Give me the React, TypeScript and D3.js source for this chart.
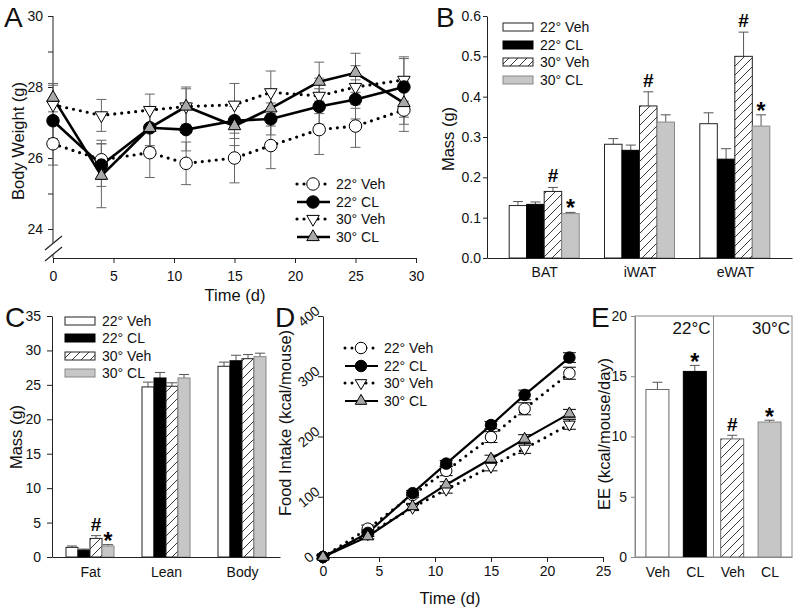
import React, { useEffect, useRef } from 'react';
import * as d3 from 'd3';

const FONT = "'Liberation Sans', Arial, Helvetica, sans-serif";
const GRAY = '#c6c6c6';
const TRI_GRAY = '#a9a9a9';
const ERR = '#555';

const seriesNames = ['22° Veh', '22° CL', '30° Veh', '30° CL'];

// A: body weight over time
const timeA = [0, 4, 8, 11, 15, 18, 22, 25, 29];
const bw22Veh = [26.4, 25.95, 26.15, 25.85, 26.0, 26.35, 26.8, 26.9, 27.35];
const bw22VehErr = [0.6, 0.55, 0.7, 0.6, 0.7, 0.65, 0.7, 0.6, 0.6];
const bw22CL = [27.05, 25.8, 26.85, 26.8, 27.05, 27.1, 27.45, 27.65, 28.0];
const bw22CLErr = [0.5, 0.6, 0.5, 0.6, 0.5, 0.45, 0.5, 0.55, 0.85];
const bw30Veh = [27.5, 27.2, 27.35, 27.45, 27.5, 27.85, 27.75, 28.0, 28.2];
const bw30VehErr = [0.55, 0.45, 0.45, 0.5, 0.6, 0.6, 0.5, 0.6, 0.6];
const bw30CL = [27.7, 25.5, 26.85, 27.45, 26.9, 27.4, 28.15, 28.4, 27.55];
const bw30CLErr = [0.4, 0.9, 0.55, 0.55, 0.55, 0.5, 0.55, 0.55, 0.6];
const ticksA = [0, 5, 10, 15, 20, 25, 30];

// B: tissue mass
const groupsB = ['BAT', 'iWAT', 'eWAT'];
const tis22Veh = [0.13, 0.282, 0.333];
const tis22VehErr = [0.01, 0.014, 0.027];
const tis22CL = [0.133, 0.267, 0.245];
const tis22CLErr = [0.006, 0.013, 0.026];
const tis30Veh = [0.165, 0.377, 0.5];
const tis30VehErr = [0.01, 0.035, 0.06];
const tis30CL = [0.11, 0.337, 0.327];
const tis30CLErr = [0.003, 0.018, 0.028];
const marksB = [['', '', '#', '*'], ['', '', '#', ''], ['', '', '#', '*']];

// C: body composition
const groupsC = ['Fat', 'Lean', 'Body'];
const comp22Veh = [1.4, 24.7, 27.7];
const comp22VehErr = [0.2, 0.7, 0.6];
const comp22CL = [1.0, 26.0, 28.5];
const comp22CLErr = [0.15, 0.8, 0.8];
const comp30Veh = [2.7, 24.8, 28.8];
const comp30VehErr = [0.4, 0.5, 0.6];
const comp30CL = [1.6, 26.0, 29.1];
const comp30CLErr = [0.2, 0.5, 0.5];
const marksC = [['', '', '#', '*'], ['', '', '', ''], ['', '', '', '']];

// D: cumulative food intake
const timeD = [0, 4, 8, 11, 15, 18, 22];
const fi22Veh = [0, 47, 103, 143, 199, 246, 305];
const fi22VehErr = [3, 6, 4, 8, 9, 10, 10];
const fi22CL = [0, 40, 106, 155, 219, 269, 331];
const fi22CLErr = [3, 5, 4, 5, 6, 8, 8];
const fi30Veh = [0, 38, 82, 112, 150, 180, 220];
const fi30VehErr = [3, 4, 5, 6, 7, 8, 8];
const fi30CL = [0, 34, 84, 120, 163, 196, 238];
const fi30CLErr = [3, 4, 5, 5, 6, 7, 7];

// E: energy expenditure
const eeLabels = ['Veh', 'CL', 'Veh', 'CL'];
const eeTemps = ['22°C', '30°C'];
const eeVals = [13.9, 15.4, 9.8, 11.2];
const eeErr = [0.6, 0.5, 0.3, 0.15];
const eeMarks = ['', '*', '#', '*'];

const barFill = ['#fff', '#000', 'url(#hatch)', GRAY];
const barStroke = ['#222', '#000', '#222', '#888'];

type LineStyle = { kind: 'circle' | 'up' | 'down'; fill: string; dotted: boolean };
const lineStyles: LineStyle[] = [
  { kind: 'circle', fill: '#fff', dotted: true },
  { kind: 'circle', fill: '#000', dotted: false },
  { kind: 'down', fill: '#fff', dotted: true },
  { kind: 'up', fill: TRI_GRAY, dotted: false },
];

function Axis({ axis, x = 0, y = 0, size = 14, color = '#222', post }: any) {
  const ref = useRef<SVGGElement | null>(null);
  useEffect(() => {
    if (!ref.current) return;
    const g = d3.select(ref.current);
    g.selectAll('*').remove();
    g.call(axis);
    g.attr('font-family', FONT).attr('font-size', size);
    g.selectAll('path,line').attr('stroke', color);
    g.selectAll('text').attr('fill', '#111');
    if (post) post(g);
  });
  return <g ref={ref} transform={`translate(${x},${y})`} />;
}

function Marker({ kind, fill, x, y, size }: { kind: string; fill: string; x: number; y: number; size: number }) {
  if (kind === 'circle') {
    return <circle cx={x} cy={y} r={size / 2} fill={fill} stroke="#000" strokeWidth={1} />;
  }
  const area = (size * size * Math.sqrt(3)) / 4;
  const p = d3.symbol().type(d3.symbolTriangle).size(area)() as string;
  return (
    <path
      d={p}
      transform={`translate(${x},${y})${kind === 'down' ? ' rotate(180)' : ''}`}
      fill={fill}
      stroke="#000"
      strokeWidth={1}
    />
  );
}

function Title({ x, y, text, rotate = false, size = 16.5 }: any) {
  return (
    <text
      transform={`translate(${x},${y})${rotate ? ' rotate(-90)' : ''}`}
      textAnchor="middle"
      dy={rotate ? '0.35em' : 0}
      fontFamily={FONT}
      fontSize={size}
      fill="#111"
    >
      {text}
    </text>
  );
}

function Letter({ x, y, t }: any) {
  return (
    <text x={x} y={y} fontFamily={FONT} fontSize={28} fill="#111">
      {t}
    </text>
  );
}

function SigMark({ x, y, m }: { x: number; y: number; m: string }) {
  if (!m) return null;
  if (m === '*') {
    return (
      <text x={x} y={y + 5} textAnchor="middle" fontFamily={FONT} fontWeight="bold" fontSize={23} fill="#000">
        *
      </text>
    );
  }
  return (
    <text x={x} y={y - 4} textAnchor="middle" fontFamily={FONT} fontWeight="bold" fontSize={19} fill="#000">
      #
    </text>
  );
}

function LinePanel({ times, series, errs, x, y, lineW, dotW, markerSize, capW, errColor }: any) {
  const line = d3
    .line<number>()
    .x((_, i) => x(times[i]))
    .y((d) => y(d));
  const order = [0, 2, 1, 3];
  return (
    <g>
      {order.map((s) => (
        <g key={'e' + s}>
          {series[s].map((v: number, i: number) => {
            const cx = x(times[i]);
            const e = errs[s][i];
            return (
              <g key={i} stroke={errColor} strokeWidth={1}>
                <line x1={cx} x2={cx} y1={y(v - e)} y2={y(v + e)} />
                <line x1={cx - capW / 2} x2={cx + capW / 2} y1={y(v + e)} y2={y(v + e)} />
                <line x1={cx - capW / 2} x2={cx + capW / 2} y1={y(v - e)} y2={y(v - e)} />
              </g>
            );
          })}
        </g>
      ))}
      {order.map((s) => (
        <path
          key={'l' + s}
          d={line(series[s]) as string}
          fill="none"
          stroke="#000"
          strokeWidth={lineStyles[s].dotted ? dotW : lineW}
          strokeDasharray={lineStyles[s].dotted ? '0 7' : undefined}
          strokeLinecap={lineStyles[s].dotted ? 'round' : 'butt'}
        />
      ))}
      {order.map((s) => (
        <g key={'m' + s}>
          {series[s].map((v: number, i: number) => (
            <Marker key={i} kind={lineStyles[s].kind} fill={lineStyles[s].fill} x={x(times[i])} y={y(v)} size={markerSize} />
          ))}
        </g>
      ))}
    </g>
  );
}

function LineLegend({ x, rows, lineW, dotW, markerSize, size = 14 }: any) {
  return (
    <g>
      {seriesNames.map((n, i) => (
        <g key={n}>
          <line
            x1={x}
            x2={x + 33}
            y1={rows[i]}
            y2={rows[i]}
            stroke="#000"
            strokeWidth={lineStyles[i].dotted ? dotW : lineW}
            strokeDasharray={lineStyles[i].dotted ? '0 7' : undefined}
            strokeLinecap={lineStyles[i].dotted ? 'round' : 'butt'}
          />
          <Marker kind={lineStyles[i].kind} fill={lineStyles[i].fill} x={x + 16} y={rows[i]} size={markerSize} />
          <text x={x + 39} y={rows[i] + 5} fontFamily={FONT} fontSize={size} fill="#111">
            {n}
          </text>
        </g>
      ))}
    </g>
  );
}

function BarLegend({ x, rows }: any) {
  return (
    <g>
      {seriesNames.map((n, i) => (
        <g key={n}>
          <rect x={x} y={rows[i] - 4} width={30} height={8} fill={barFill[i]} stroke={barStroke[i]} strokeWidth={1} />
          <text x={x + 37} y={rows[i] + 5} fontFamily={FONT} fontSize={14} fill="#111">
            {n}
          </text>
        </g>
      ))}
    </g>
  );
}

function GroupedBars({ groups, series, errs, marks, x, sub, y, y0 }: any) {
  return (
    <g>
      {groups.map((g: string, gi: number) => (
        <g key={g}>
          {series.map((vals: number[], s: number) => {
            const bx = x(g) + sub(seriesNames[s]);
            const w = sub.bandwidth();
            const v = vals[gi];
            const top = y(v + errs[s][gi]);
            return (
              <g key={s}>
                <line x1={bx + w / 2} x2={bx + w / 2} y1={y(v)} y2={top} stroke={ERR} strokeWidth={1} />
                <line x1={bx + w / 2 - 5} x2={bx + w / 2 + 5} y1={top} y2={top} stroke={ERR} strokeWidth={1} />
                <rect x={bx} y={y(v)} width={w} height={y0 - y(v)} fill={barFill[s]} stroke={barStroke[s]} strokeWidth={1} />
                <SigMark x={bx + w / 2} y={top - 1} m={marks[gi][s]} />
              </g>
            );
          })}
        </g>
      ))}
    </g>
  );
}

function PanelA() {
  const x = d3.scaleLinear().domain([0, 30]).range([53, 416]);
  const y = d3.scaleLinear().domain([24, 30]).range([229, 16]);
  const series = [bw22Veh, bw22CL, bw30Veh, bw30CL];
  const errs = [bw22VehErr, bw22CLErr, bw30VehErr, bw30CLErr];
  return (
    <g>
      <Axis
        axis={d3.axisBottom(x).tickValues(ticksA).tickSize(5).tickSizeOuter(0).tickPadding(8)}
        y={258}
      />
      <Axis
        axis={d3
          .axisLeft(y)
          .tickValues([24, 25, 26, 27, 28, 29, 30])
          .tickFormat((d: any) => (d % 2 === 0 ? String(d) : ''))
          .tickSize(5)
          .tickPadding(5)}
        x={53}
        post={(g: any) => g.select('.domain').remove()}
      />
      <line x1={53} x2={53} y1={y(30)} y2={243} stroke="#222" />
      <line x1={53} x2={53} y1={254} y2={258} stroke="#222" />
      <line x1={45} y1={250} x2={62} y2={236} stroke="#222" strokeWidth={1.2} />
      <line x1={45} y1={261} x2={62} y2={247} stroke="#222" strokeWidth={1.2} />
      <LinePanel times={timeA} series={series} errs={errs} x={x} y={y} lineW={2.6} dotW={3.2} markerSize={12.5} capW={10} errColor="#666" />
      <LineLegend x={297} rows={[184, 202, 219, 237]} lineW={2.6} dotW={3.2} markerSize={12.5} />
      <Title x={18} y={141} text="Body Weight (g)" rotate />
      <Title x={235} y={301} text="Time (d)" />
      <Letter x={4} y={27} t="A" />
    </g>
  );
}

function PanelB() {
  const x = d3.scalePoint().domain(groupsB).range([487, 792]).padding(0.6);
  const sub = d3.scaleBand().domain(seriesNames).range([-35, 35]);
  const y = d3.scaleLinear().domain([0, 0.6]).range([258, 16]);
  const series = [tis22Veh, tis22CL, tis30Veh, tis30CL];
  const errs = [tis22VehErr, tis22CLErr, tis30VehErr, tis30CLErr];
  return (
    <g>
      <GroupedBars groups={groupsB} series={series} errs={errs} marks={marksB} x={x} sub={sub} y={y} y0={258} />
      <Axis axis={d3.axisBottom(x).tickSize(0).tickSizeOuter(0).tickPadding(9)} y={258} />
      <Axis
        axis={d3.axisLeft(y).tickValues(d3.range(0, 0.61, 0.1)).tickFormat(d3.format('.1f')).tickSize(4).tickSizeOuter(0).tickPadding(2)}
        x={487}
      />
      <BarLegend x={503} rows={[27, 45, 62, 80]} />
      <Title x={448} y={139} text="Mass (g)" rotate />
      <Letter x={436} y={27} t="B" />
    </g>
  );
}

function PanelC() {
  const x = d3.scalePoint().domain(groupsC).range([52, 280]).padding(0.5);
  const sub = d3.scaleBand().domain(seriesNames).range([-24, 24]);
  const y = d3.scaleLinear().domain([0, 35]).range([557, 316]);
  const series = [comp22Veh, comp22CL, comp30Veh, comp30CL];
  const errs = [comp22VehErr, comp22CLErr, comp30VehErr, comp30CLErr];
  return (
    <g>
      <GroupedBars groups={groupsC} series={series} errs={errs} marks={marksC} x={x} sub={sub} y={y} y0={557} />
      <Axis axis={d3.axisBottom(x).tickSize(0).tickSizeOuter(0).tickPadding(10)} y={557} />
      <Axis axis={d3.axisLeft(y).tickValues(d3.range(0, 36, 5)).tickSize(5).tickSizeOuter(0).tickPadding(6)} x={52} />
      <BarLegend x={65} rows={[321, 338, 356, 373]} />
      <Title x={16} y={437} text="Mass (g)" rotate />
      <Letter x={5} y={327} t="C" />
    </g>
  );
}

function PanelD() {
  const x = d3.scaleLinear().domain([0, 25]).range([323, 603]);
  const y = d3.scaleLinear().domain([0, 400]).range([557, 316]);
  const series = [fi22Veh, fi22CL, fi30Veh, fi30CL];
  const errs = [fi22VehErr, fi22CLErr, fi30VehErr, fi30CLErr];
  return (
    <g>
      <Axis axis={d3.axisBottom(x).tickValues([0, 5, 10, 15, 20, 25]).tickSize(5).tickSizeOuter(0).tickPadding(4)} y={557} />
      <Axis
        axis={d3.axisLeft(y).tickValues([0, 100, 200, 300, 400]).tickSize(5).tickSizeOuter(0).tickPadding(4)}
        x={323}
        post={(g: any) =>
          g
            .selectAll('.tick text')
            .attr('text-anchor', 'middle')
            .attr('x', -14)
            .attr('transform', 'rotate(-40,-14,0)')
        }
      />
      <LinePanel times={timeD} series={series} errs={errs} x={x} y={y} lineW={2.2} dotW={3} markerSize={11.5} capW={13} errColor="#000" />
      <LineLegend x={345} rows={[348, 366, 383, 401]} lineW={2.2} dotW={3} markerSize={11.5} />
      <Title x={285} y={423} text="Food Intake (kcal/mouse)" rotate />
      <Title x={450} y={604} text="Time (d)" />
      <Letter x={275} y={327} t="D" />
    </g>
  );
}

function PanelE() {
  const keys = eeLabels.map((_, i) => String(i));
  const x = d3.scalePoint().domain(keys).range([635, 792]).padding(0.6);
  const y = d3.scaleLinear().domain([0, 20]).range([557, 316]);
  const fills = ['#fff', '#000', 'url(#hatch)', GRAY];
  const strokes = ['#666', '#000', '#666', '#888'];
  const w = 23;
  const mid = ((x('1') as number) + (x('2') as number)) / 2;
  return (
    <g>
      <rect x={635} y={316} width={157} height={241} fill="none" stroke="#888" />
      <line x1={mid} x2={mid} y1={316} y2={557} stroke="#888" />
      {eeVals.map((v, i) => {
        const cx = x(keys[i]) as number;
        const top = y(v + eeErr[i]);
        return (
          <g key={i}>
            <line x1={cx} x2={cx} y1={y(v)} y2={top} stroke={ERR} />
            <line x1={cx - 5} x2={cx + 5} y1={top} y2={top} stroke={ERR} />
            <rect x={cx - w / 2} y={y(v)} width={w} height={557 - y(v)} fill={fills[i]} stroke={strokes[i]} />
            <SigMark x={cx} y={top} m={eeMarks[i]} />
          </g>
        );
      })}
      <Axis
        axis={d3.axisLeft(y).tickValues([0, 5, 10, 15, 20]).tickSize(4).tickSizeOuter(0).tickPadding(4)}
        x={635}
        color="#888"
      />
      <Axis
        axis={d3.axisBottom(x).tickSize(0).tickSizeOuter(0).tickPadding(10).tickFormat((d: any) => eeLabels[+d])}
        y={557}
        color="#888"
      />
      <text x={mid - 3} y={334} textAnchor="end" fontFamily={FONT} fontSize={17} fill="#111">
        {eeTemps[0]}
      </text>
      <text x={790} y={334} textAnchor="end" fontFamily={FONT} fontSize={17} fill="#111">
        {eeTemps[1]}
      </text>
      <Title x={604} y={434} text="EE (kcal/mouse/day)" rotate />
      <Letter x={591} y={327} t="E" />
    </g>
  );
}

export default function App() {
  return (
    <svg width={800} height={614} style={{ position: 'absolute', left: 0, top: 0, background: '#fff' }}>
      <defs>
        <pattern id="hatch" patternUnits="userSpaceOnUse" width={9} height={9}>
          <rect width={9} height={9} fill="#fff" />
          <path d="M0,9 L9,0 M-2.25,2.25 L2.25,-2.25 M6.75,11.25 L11.25,6.75" stroke="#222" strokeWidth={0.9} />
        </pattern>
      </defs>
      <rect width={800} height={614} fill="#fff" />
      <PanelA />
      <PanelB />
      <PanelC />
      <PanelD />
      <PanelE />
    </svg>
  );
}
